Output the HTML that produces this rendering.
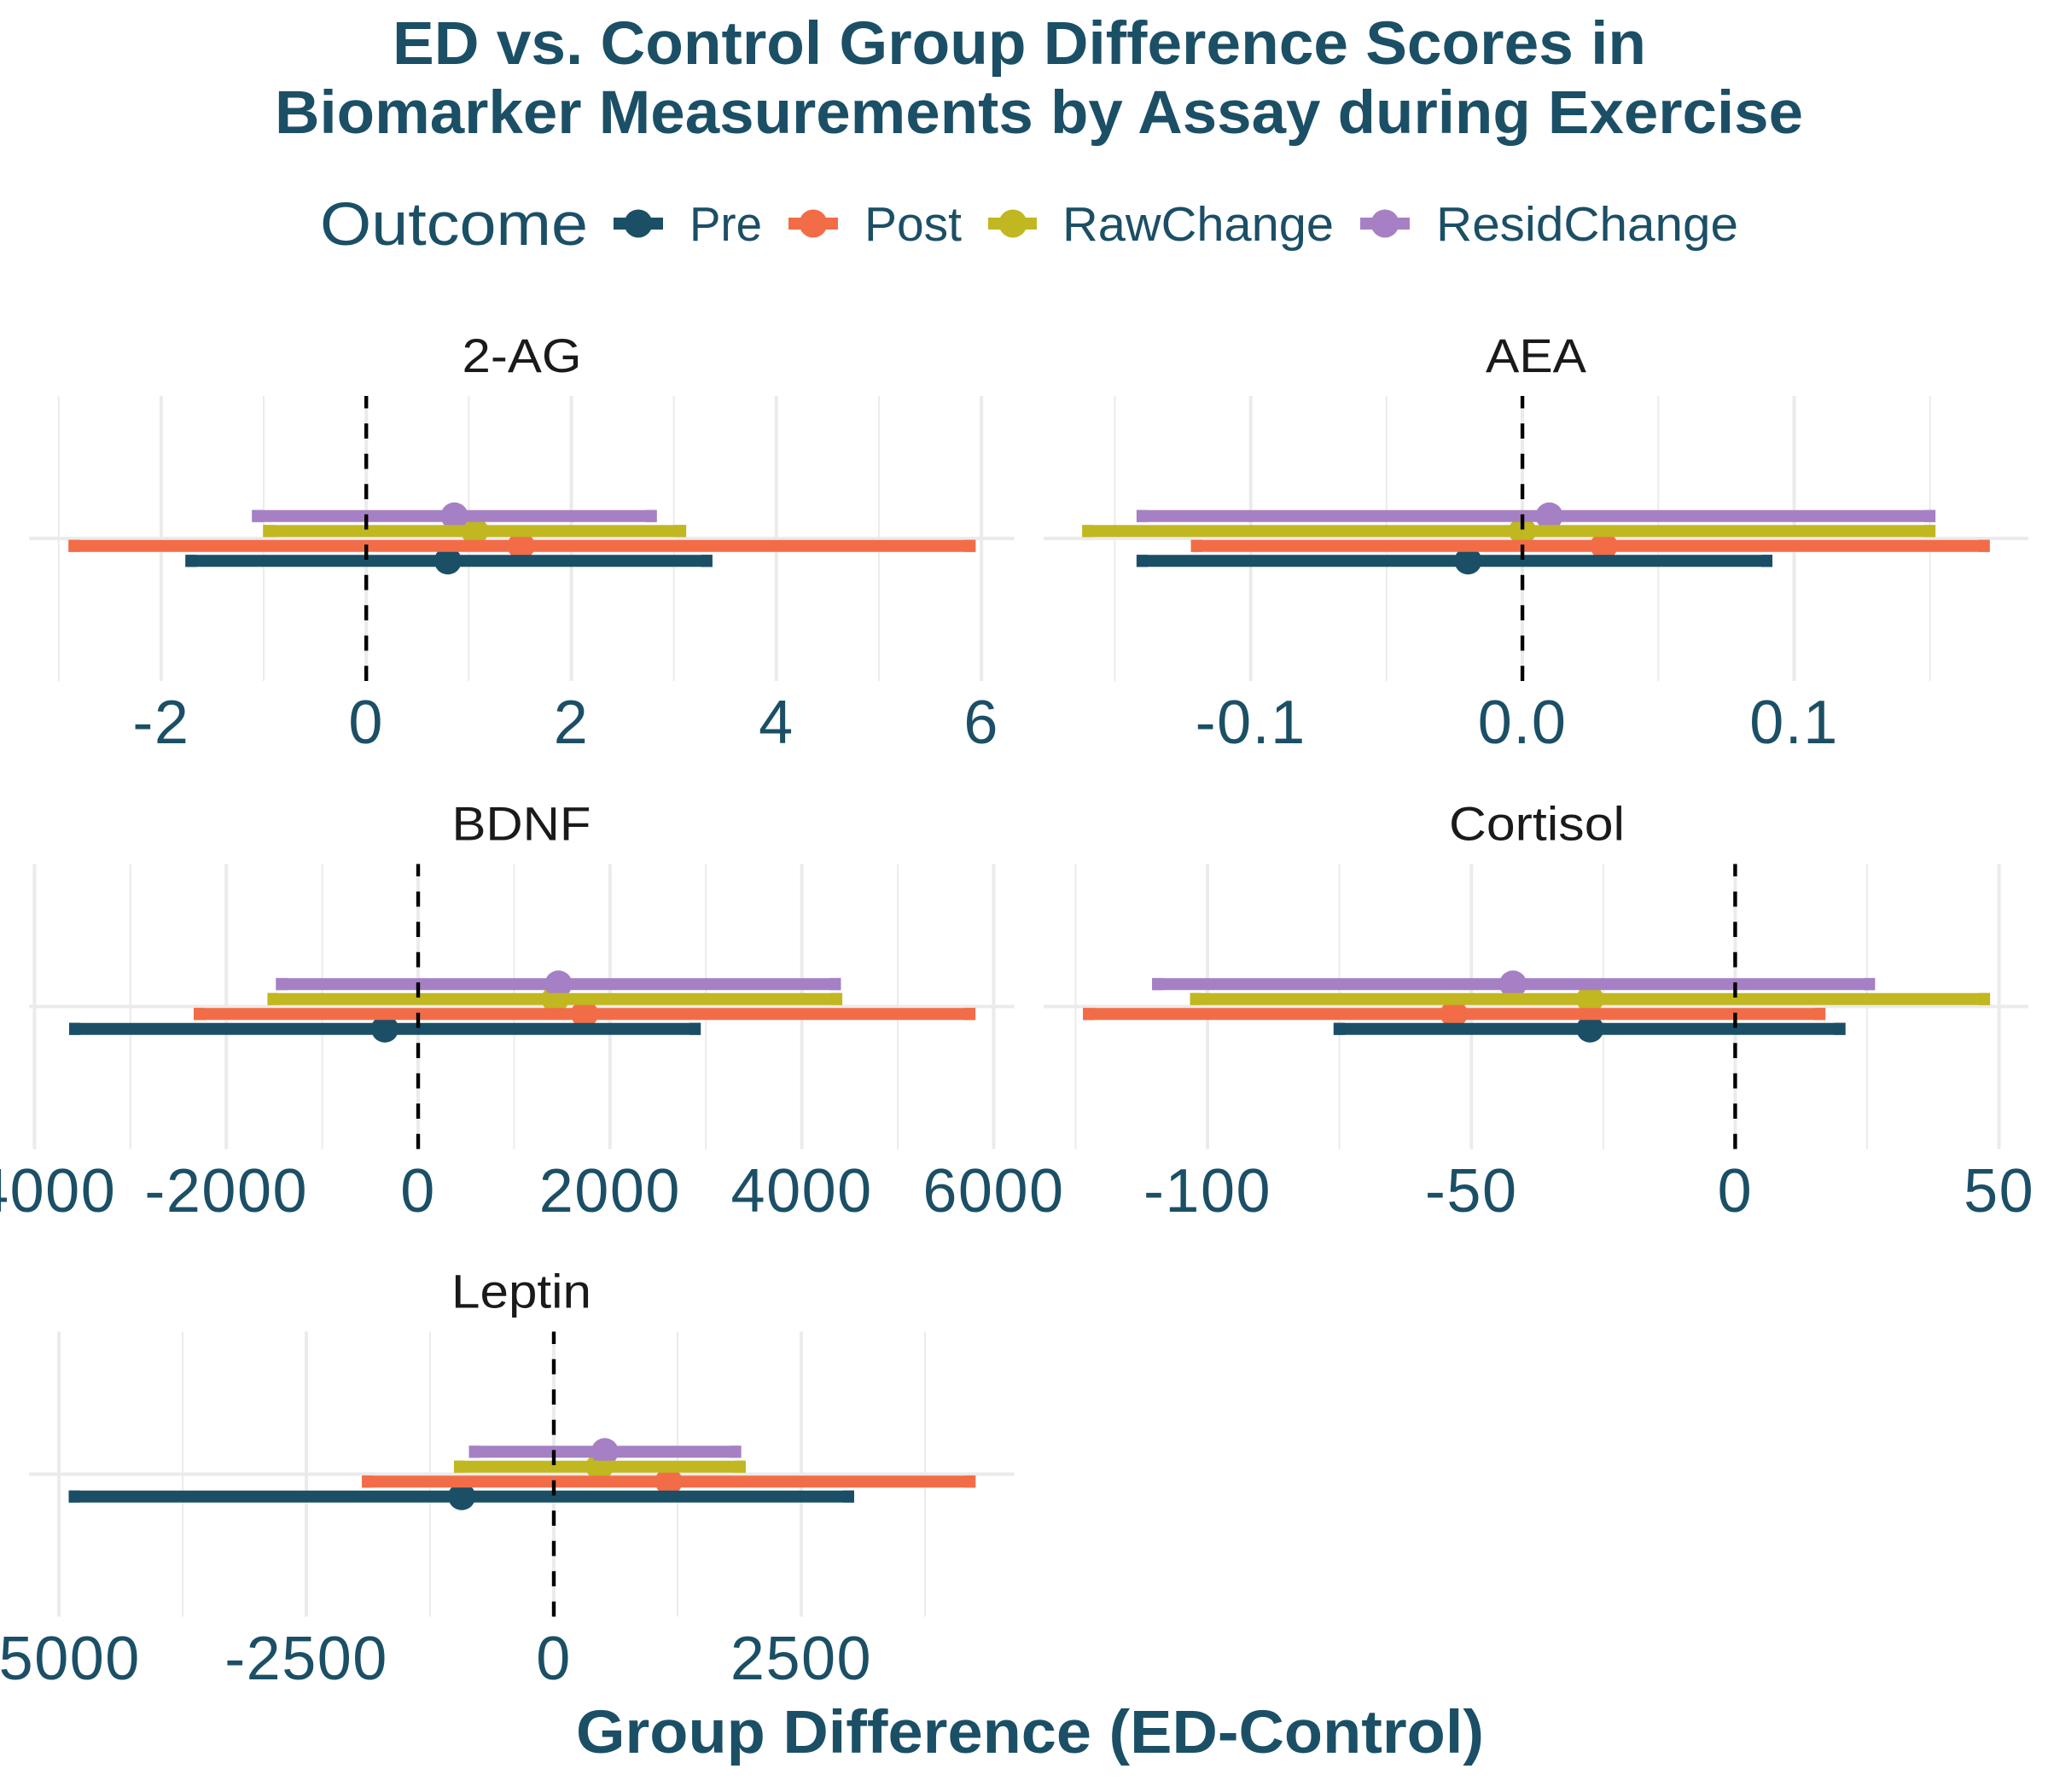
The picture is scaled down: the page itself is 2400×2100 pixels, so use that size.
<!DOCTYPE html>
<html lang="en">
<head>
<meta charset="utf-8">
<title>ED vs. Control Group Difference Scores</title>
<style>
  html, body { margin: 0; padding: 0; background: #ffffff; }
  svg { display: block; }
  text { font-family: "Liberation Sans", sans-serif; }
  .title { font-size: 71px; font-weight: 700; fill: #1B4F66; }
  .legend-title { font-size: 71px; fill: #1B4F66; }
  .legend-label { font-size: 57px; fill: #1B4F66; }
  .strip { font-size: 56px; fill: #1A1A1A; text-anchor: middle; }
  .tick { font-size: 72px; letter-spacing: 1.5px; fill: #1B4F66; text-anchor: middle; }
</style>
</head>
<body>
<svg id="chart" xmlns="http://www.w3.org/2000/svg" width="2400" height="2100" viewBox="0 0 2400 2100">
  <rect x="0" y="0" width="2400" height="2100" fill="#ffffff"/>
  <text class="title" x="460" y="75" textLength="1469" lengthAdjust="spacingAndGlyphs">ED vs. Control Group Difference Scores in</text>
  <text class="title" x="322" y="156" textLength="1791" lengthAdjust="spacingAndGlyphs">Biomarker Measurements by Assay during Exercise</text>

  <g>
    <text class="legend-title" x="375" y="287" textLength="314" lengthAdjust="spacingAndGlyphs">Outcome</text>
    <g>
      <circle cx="748" cy="262" r="16.5" fill="#1B4F66"/>
      <rect x="719" y="255" width="58" height="14" fill="#1B4F66"/>
      <text class="legend-label" x="808" y="282" textLength="85" lengthAdjust="spacingAndGlyphs">Pre</text>
    </g>
    <g>
      <circle cx="953" cy="262" r="16.5" fill="#F26D47"/>
      <rect x="924" y="255" width="58" height="14" fill="#F26D47"/>
      <text class="legend-label" x="1013" y="282" textLength="114" lengthAdjust="spacingAndGlyphs">Post</text>
    </g>
    <g>
      <circle cx="1187" cy="262" r="16.5" fill="#C1B720"/>
      <rect x="1158" y="255" width="57" height="14" fill="#C1B720"/>
      <text class="legend-label" x="1245" y="282" textLength="318" lengthAdjust="spacingAndGlyphs">RawChange</text>
    </g>
    <g>
      <circle cx="1623" cy="262" r="16.5" fill="#A680C4"/>
      <rect x="1594" y="255" width="58" height="14" fill="#A680C4"/>
      <text class="legend-label" x="1683" y="282" textLength="354" lengthAdjust="spacingAndGlyphs">ResidChange</text>
    </g>
  </g>

  <g id="panels"></g>

  <text class="title" x="675" y="2054" textLength="1064" lengthAdjust="spacingAndGlyphs">Group Difference (ED-Control)</text>
</svg>

<script>
// Series order for all value arrays: Pre, Post, RawChange, ResidChange
const seriesNames = ['Pre', 'Post', 'RawChange', 'ResidChange'];
const seriesColors = ['#1B4F66', '#F26D47', '#C1B720', '#A680C4'];

// 2-AG
const ag2Low = [-1.764, -2.904, -1.006, -1.115];
const ag2Mid = [0.796, 1.51, 1.057, 0.86];
const ag2High = [3.376, 5.943, 3.12, 2.834];
const ag2Ticks = [-2, 0, 2, 4, 6];
const ag2TickLabels = ['-2', '0', '2', '4', '6'];
const ag2Minor = [-3, -1, 1, 3, 5];

// AEA
const aeaLow = [-0.142, -0.122, -0.162, -0.142];
const aeaMid = [-0.020, 0.030, 0.0, 0.0099];
const aeaHigh = [0.092, 0.172, 0.152, 0.152];
const aeaTicks = [-0.1, 0, 0.1];
const aeaTickLabels = ['-0.1', '0.0', '0.1'];
const aeaMinor = [-0.15, -0.05, 0.05, 0.15];

// BDNF
const bdnfLow = [-3639, -2340, -1571, -1483];
const bdnfMid = [-347, 1735, 1429, 1463];
const bdnfHigh = [2946, 5810, 4422, 4408];
const bdnfTicks = [-4000, -2000, 0, 2000, 4000, 6000];
const bdnfTickLabels = ['-4000', '-2000', '0', '2000', '4000', '6000'];
const bdnfMinor = [-3000, -1000, 1000, 3000, 5000];

// Cortisol
const cortisolLow = [-76.1, -123.6, -103.3, -110.5];
const cortisolMid = [-27.5, -53.3, -27.5, -42.1];
const cortisolHigh = [20.9, 17.1, 48.3, 26.5];
const cortisolTicks = [-100, -50, 0, 50];
const cortisolTickLabels = ['-100', '-50', '0', '50'];
const cortisolMinor = [-125, -75, -25, 25];

// Leptin
const leptinLow = [-4901, -1939, -1009, -857];
const leptinMid = [-930, 1161, 462, 515];
const leptinHigh = [3034, 4261, 1939, 1893];
const leptinTicks = [-5000, -2500, 0, 2500];
const leptinTickLabels = ['-5000', '-2500', '0', '2500'];
const leptinMinor = [-3750, -1250, 1250, 3750];

// Axis domains (value at panel left, value at panel right)
const ag2Domain = [-3.289, 6.319];
const aeaDomain = [-0.1762, 0.1862];
const bdnfDomain = [-4057, 6214];
const cortisolDomain = [-131.05, 55.56];
const leptinDomain = [-5302, 4651];

const SVG_NS = 'http://www.w3.org/2000/svg';
const root = document.getElementById('panels');
const LEFT = [34, 1188.5];
const RIGHT = [1223, 2377];
const ROW_TOP = [464, 1012.5, 1560.5];
const PANEL_H = 334;
const GRID = '#EBEBEB';

function mk(tag, attrs, parent) {
  const el = document.createElementNS(SVG_NS, tag);
  for (const k in attrs) el.setAttribute(k, attrs[k]);
  parent.appendChild(el);
  return el;
}

function xScale(domain, range) {
  return function (v) {
    return range[0] + (v - domain[0]) / (domain[1] - domain[0]) * (range[1] - range[0]);
  };
}

function drawPanel(slug, title, titleX, titleW, domain, range, top, tickBase, low, mid, high, ticks, tickLabels, minor) {
  const x = xScale(domain, range);
  const bottom = top + PANEL_H;
  const cy = top + PANEL_H / 2;

  const g = mk('g', {}, root);
  
  

  const strip = mk('text', { 'class': 'strip', x: titleX, y: top - 28, textLength: titleW, lengthAdjust: 'spacingAndGlyphs' }, g);
  strip.textContent = title;
  
  

  minor.forEach(function (v) {
    const line = mk('line', { x1: x(v), x2: x(v), y1: top, y2: bottom, stroke: GRID, 'stroke-width': 2 }, g);
    
    
  });

  const hLine = mk('line', { x1: range[0], x2: range[1], y1: cy, y2: cy, stroke: GRID, 'stroke-width': 4 }, g);
  
  

  ticks.forEach(function (v, i) {
    const line = mk('line', { x1: x(v), x2: x(v), y1: top, y2: bottom, stroke: GRID, 'stroke-width': 4 }, g);
    
    

    const label = mk('text', { 'class': 'tick', x: x(v), y: tickBase }, g);
    label.textContent = tickLabels[i];
    
    
  });

  const yOf = function (i) { return cy + (1.5 - i) * 17.5; };

  seriesNames.forEach(function (name, i) {
    const dot = mk('circle', { cx: x(mid[i]), cy: yOf(i), r: 16, fill: seriesColors[i] }, g);
    
    
  });

  seriesNames.forEach(function (name, i) {
    const xl = x(low[i]);
    const xh = x(high[i]);
    const bar = mk('rect', { x: xl, y: yOf(i) - 7, width: xh - xl, height: 14, fill: seriesColors[i] }, g);
    
    

    const capL = mk('rect', { x: xl, y: yOf(i) - 7.3, width: 13.3, height: 14.6, fill: seriesColors[i], 'fill-opacity': 0.6 }, g);
    
    

    const capH = mk('rect', { x: xh - 13.3, y: yOf(i) - 7.3, width: 13.3, height: 14.6, fill: seriesColors[i], 'fill-opacity': 0.6 }, g);
    
    
  });

  const zero = mk('line', { x1: x(0), x2: x(0), y1: bottom, y2: top, stroke: '#000000', 'stroke-width': 4.4, 'stroke-dasharray': '17.8 17.7' }, g);
  
  
}

drawPanel('2-ag', '2-AG', 611.5, 140, ag2Domain, LEFT, ROW_TOP[0], 871, ag2Low, ag2Mid, ag2High, ag2Ticks, ag2TickLabels, ag2Minor);
drawPanel('aea', 'AEA', 1800, 118, aeaDomain, RIGHT, ROW_TOP[0], 871, aeaLow, aeaMid, aeaHigh, aeaTicks, aeaTickLabels, aeaMinor);
drawPanel('bdnf', 'BDNF', 611, 163, bdnfDomain, LEFT, ROW_TOP[1], 1420, bdnfLow, bdnfMid, bdnfHigh, bdnfTicks, bdnfTickLabels, bdnfMinor);
drawPanel('cortisol', 'Cortisol', 1801, 206, cortisolDomain, RIGHT, ROW_TOP[1], 1420, cortisolLow, cortisolMid, cortisolHigh, cortisolTicks, cortisolTickLabels, cortisolMinor);
drawPanel('leptin', 'Leptin', 611, 164, leptinDomain, LEFT, ROW_TOP[2], 1968, leptinLow, leptinMid, leptinHigh, leptinTicks, leptinTickLabels, leptinMinor);
</script>
</body>
</html>
